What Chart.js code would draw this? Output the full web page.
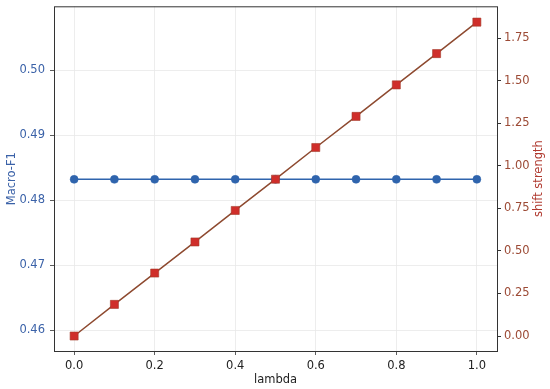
<!DOCTYPE html>
<html>
<head>
<meta charset="utf-8">
<script src="https://cdn.jsdelivr.net/npm/chart.js@4.4.1/dist/chart.umd.min.js"></script>
<style>
  html, body { margin: 0; padding: 0; background: #fff; }
  #wrap { width: 550px; height: 389px; }
</style>
</head>
<body>
<div id="wrap"><canvas id="lambdaChart"></canvas></div>
<script>
var lambdas = [0.0, 0.1, 0.2, 0.3, 0.4, 0.5, 0.6, 0.7, 0.8, 0.9, 1.0];
var macroF1 = [0.4832, 0.4832, 0.4832, 0.4832, 0.4832, 0.4832, 0.4832, 0.4832, 0.4832, 0.4832, 0.4832];
var shiftStrength = [0.0, 0.186, 0.370, 0.553, 0.738, 0.922, 1.108, 1.291, 1.476, 1.660, 1.845];
var xTicks = [0.0, 0.2, 0.4, 0.6, 0.8, 1.0];
var f1Ticks = [0.46, 0.47, 0.48, 0.49, 0.50];
var shiftTicks = [0.0, 0.25, 0.5, 0.75, 1.0, 1.25, 1.5, 1.75];

var blue = '#2f64ad';
var brown = '#8e4a30';
var red = '#cf2e2a';
var rightTitle = 'shift strength';

function pts(ys) {
    return lambdas.map(function(x, i) { return { x: x, y: ys[i] }; });
}

// keep chart.js from reserving room for half a tick label above/below
function fixY(width) {
    return function(axis) {
        axis.width = width;
        axis.paddingTop = 0;
        axis.paddingBottom = 0;
    };
}

var framePlugin = {
    id: 'frame',
    afterDatasetsDraw: function(chart) {
        var a = chart.chartArea, ctx = chart.ctx;
        ctx.save();
        ctx.strokeStyle = '#333';
        ctx.lineWidth = 1;
        ctx.strokeRect(a.left + 0.5, a.top + 0.5, a.right - a.left, a.bottom - a.top);
        // right axis title, reading bottom to top like matplotlib
        ctx.fillStyle = '#b03a30';
        ctx.font = '11.5px "DejaVu Sans"';
        ctx.textAlign = 'center';
        ctx.textBaseline = 'middle';
        ctx.translate(539, (a.top + a.bottom) / 2);
        ctx.rotate(-Math.PI / 2);
        ctx.fillText(rightTitle, 0, 0);
        ctx.restore();
    }
};

document.addEventListener('DOMContentLoaded', function() {
    Chart.defaults.font.family = '"DejaVu Sans", sans-serif';
    Chart.defaults.font.size = 11.5;
    var ctx = document.getElementById('lambdaChart').getContext('2d');
    new Chart(ctx, {
        type: 'line',
        data: {
            datasets: [{
                label: 'Macro-F1',
                data: pts(macroF1),
                yAxisID: 'y',
                order: 2,
                borderColor: blue,
                backgroundColor: blue,
                borderWidth: 1.5,
                pointStyle: 'circle',
                pointRadius: 4,
                pointBorderWidth: 0.5,
                tension: 0
            }, {
                label: 'shift strength',
                data: pts(shiftStrength),
                yAxisID: 'y1',
                order: 1,
                borderColor: brown,
                backgroundColor: red,
                pointBorderColor: '#a33a2a',
                borderWidth: 1.5,
                pointStyle: 'rect',
                pointRadius: 5.7,
                pointBorderWidth: 0.6,
                tension: 0
            }]
        },
        options: {
            responsive: true,
            maintainAspectRatio: false,
            animation: false,
            layout: { padding: { top: 6, left: 0, right: 0, bottom: 0 } },
            plugins: {
                legend: { display: false },
                tooltip: { enabled: false }
            },
            scales: {
                x: {
                    type: 'linear',
                    min: -0.05,
                    max: 1.05,
                    afterBuildTicks: function(axis) { axis.ticks = xTicks.map(function(v) { return { value: v }; }); },
                    afterFit: function(axis) { axis.height = 38; axis.paddingLeft = 0; axis.paddingRight = 0; },
                    ticks: { color: '#222', padding: 4, callback: function(v) { return v.toFixed(1); } },
                    grid: { color: '#e8e8e8', lineWidth: 0.8, tickColor: '#333', tickLength: 4 },
                    border: { display: false },
                    title: { display: true, text: 'lambda', color: '#222', padding: { top: 2, bottom: 2 } }
                },
                y: {
                    type: 'linear',
                    position: 'left',
                    min: 0.45677,
                    max: 0.50985,
                    afterBuildTicks: function(axis) { axis.ticks = f1Ticks.map(function(v) { return { value: v }; }); },
                    afterFit: fixY(54),
                    ticks: { color: '#3b62a8', padding: 5, callback: function(v) { return v.toFixed(2); } },
                    grid: { color: '#e8e8e8', lineWidth: 0.8, tickColor: '#333', tickLength: 4 },
                    border: { display: false },
                    title: { display: true, text: 'Macro-F1', color: '#3b62a8', padding: { top: 5, bottom: 0 } }
                },
                y1: {
                    type: 'linear',
                    position: 'right',
                    min: -0.088,
                    max: 1.938,
                    afterBuildTicks: function(axis) { axis.ticks = shiftTicks.map(function(v) { return { value: v }; }); },
                    afterFit: fixY(53),
                    ticks: { color: '#9c4a35', padding: 3, callback: function(v) { return v.toFixed(2); } },
                    grid: { drawOnChartArea: false, tickColor: '#333', tickLength: 4 },
                    border: { display: false }
                }
            }
        },
        plugins: [framePlugin]
    });
});
</script>
</body>
</html>
